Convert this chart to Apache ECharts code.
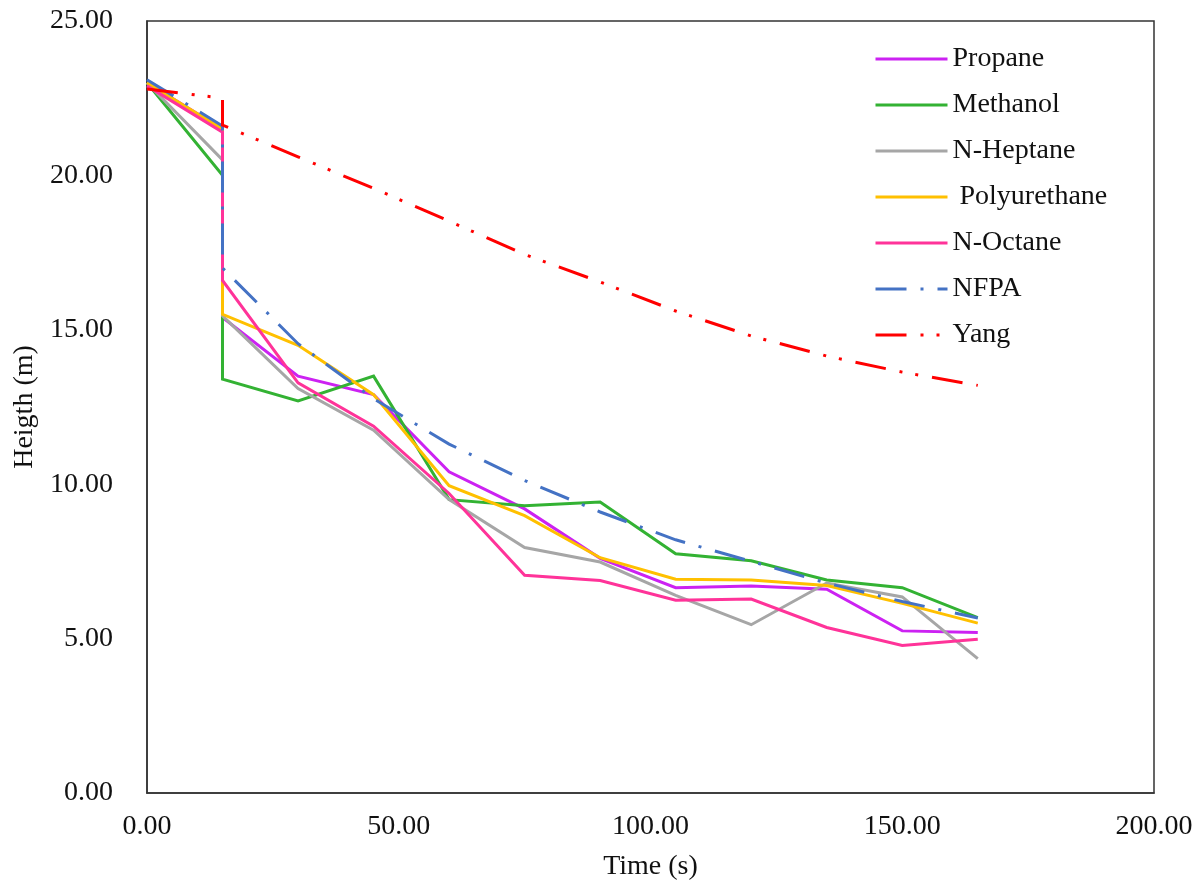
<!DOCTYPE html>
<html>
<head>
<meta charset="utf-8">
<title>Smoke layer height</title>
<script src="https://cdn.jsdelivr.net/npm/echarts@6/dist/echarts.min.js"></script>
<style>
  html, body { margin: 0; padding: 0; background: #fff; }
  #chart { width: 1204px; height: 888px; }
</style>
</head>
<body>
<div id="chart"></div>
<script>
// Time stamps (s); 15 s appears twice, giving the step down at that instant
const times = [0, 15, 15, 30, 45, 60, 75, 90, 105, 120, 135, 150, 165];

// Smoke layer height (m) per fuel / correlation
const propane      = [23.0, 21.5, 15.4, 13.5, 12.9, 10.4, 9.2, 7.6, 6.65, 6.7, 6.6, 5.25, 5.2];
const methanol     = [23.0, 20.0, 13.4, 12.7, 13.5, 9.5, 9.3, 9.42, 7.75, 7.52, 6.9, 6.65, 5.68];
const nHeptane     = [23.0, 20.5, 15.45, 13.1, 11.75, 9.5, 7.95, 7.48, 6.4, 5.45, 6.8, 6.35, 4.35];
const polyurethane = [23.0, 21.5, 15.5, 14.5, 12.9, 9.95, 8.98, 7.62, 6.92, 6.9, 6.72, 6.14, 5.5];
const nOctane      = [22.9, 21.4, 16.6, 13.28, 11.88, 9.7, 7.05, 6.88, 6.24, 6.28, 5.36, 4.78, 4.98];
const nfpa         = [23.1, 21.6, 17.0, 14.55, 12.77, 11.3, 10.12, 9.1, 8.2, 7.5, 6.8, 6.2, 5.67];
const yang         = [22.8, 22.5, 21.63, 20.6, 19.58, 18.52, 17.44, 16.55, 15.61, 14.8, 14.15, 13.63, 13.2];

const seriesNames = ['Propane', 'Methanol', 'N-Heptane', ' Polyurethane', 'N-Octane', 'NFPA', 'Yang'];
const seriesValues = [propane, methanol, nHeptane, polyurethane, nOctane, nfpa, yang];
const seriesColors = ['#CC22F2', '#33B233', '#A6A6A6', '#FFC000', '#FF3399', '#4472C4', '#FF0000'];
const seriesDash = ['solid', 'solid', 'solid', 'solid', 'solid', [31, 14, 3, 14], [31, 14, 3, 13, 3, 14]];

const textFont = 'Liberation Serif, Times New Roman, serif';
const textColor = '#111';

const chart = echarts.init(document.getElementById('chart'), null, { renderer: 'canvas' });

const series = seriesNames.map((name, i) => ({
  name: name,
  type: 'line',
  data: times.map((t, k) => [t, seriesValues[i][k]]),
  showSymbol: false,
  symbol: 'none',
  lineStyle: { color: seriesColors[i], width: 3, type: seriesDash[i], cap: 'butt', join: 'miter' },
  itemStyle: { color: seriesColors[i] },
  emphasis: { disabled: true },
  z: 2 + i
}));

chart.setOption({
  animation: false,
  backgroundColor: '#fff',
  grid: {
    left: 147, right: 50, top: 21, bottom: 95,
    containLabel: false,
    outerBoundsMode: 'none',
    show: true,
    borderColor: '#333',
    borderWidth: 1.5,
    backgroundColor: 'transparent'
  },
  legend: {
    orient: 'vertical',
    left: 869,
    top: 40,
    itemWidth: 72,
    itemHeight: 14,
    itemGap: 18,
    selectedMode: false,
    itemStyle: { opacity: 0 },
    lineStyle: { width: 3 },
    textStyle: { fontFamily: textFont, fontSize: 28, color: textColor },
    data: seriesNames
  },
  xAxis: {
    type: 'value',
    min: 0, max: 200, interval: 50,
    name: 'Time (s)',
    nameLocation: 'middle',
    nameGap: 60,
    nameTextStyle: { fontFamily: textFont, fontSize: 28, color: textColor },
    axisLine: { show: true, lineStyle: { color: '#333', width: 1.5 } },
    axisTick: { show: false },
    splitLine: { show: false },
    axisLabel: {
      fontFamily: textFont, fontSize: 28, color: textColor, margin: 20,
      formatter: v => v.toFixed(2)
    }
  },
  yAxis: {
    type: 'value',
    min: 0, max: 25, interval: 5,
    name: 'Heigth (m)',
    nameLocation: 'middle',
    nameRotate: 90,
    nameGap: 106,
    nameTextStyle: { fontFamily: textFont, fontSize: 28, color: textColor },
    axisLine: { show: true, lineStyle: { color: '#333', width: 1.5 } },
    axisTick: { show: false },
    splitLine: { show: false },
    axisLabel: {
      fontFamily: textFont, fontSize: 28, color: textColor, margin: 34,
      formatter: v => v.toFixed(2)
    }
  },
  series: series
});
</script>
</body>
</html>
